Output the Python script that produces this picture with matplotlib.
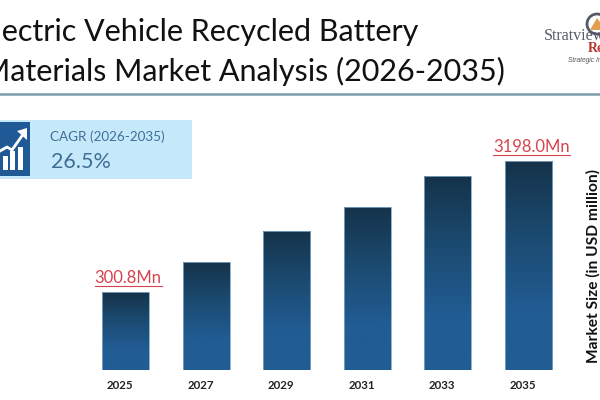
import numpy as np
import matplotlib
matplotlib.use("Agg")
import matplotlib.pyplot as plt
from matplotlib.colors import LinearSegmentedColormap
from matplotlib.patches import Rectangle, Circle, Polygon

years = ["2025", "2027", "2029", "2031", "2033", "2035"]
# bar heights as drawn (the picture is schematic; not proportional to labels)
heights = [780, 1080, 1390, 1630, 1940, 2090]
first_label = "300.8Mn"
last_label = "3198.0Mn"
title_lines = ["Electric Vehicle Recycled Battery", "Materials Market Analysis (2026-2035)"]
cagr_label = "CAGR (2026-2035)"
cagr_value = "26.5%"
ylabel = "Market Size (in USD million)"

W, H = 600, 400
fig = plt.figure(figsize=(6, 4), dpi=100, facecolor="white")
plt.rcParams["font.family"] = ["Lato", "DejaVu Sans"]

ov = fig.add_axes([0, 0, 1, 1], zorder=1)
ov.set_xlim(0, W); ov.set_ylim(H, 0); ov.axis("off")

left, right = 85, 569
step = 80.6
ax = fig.add_axes([left / W, (H - 370) / H, (right - left) / W, 230 / H], zorder=2)
ax.patch.set_alpha(0)
xlim = ((left - 125.5) / step, (right - 125.5) / step)
ylim = (0, 2300)
ax.axis("off")

cmap = LinearSegmentedColormap.from_list("b", [(0, "#15334a"), (0.35, "#1b4a70"), (0.72, "#215c93"), (1, "#215c93")])
xs = np.arange(len(years))
bars = ax.bar(xs, heights, width=47 / step, color="none", edgecolor="#7fa8c8", linewidth=0.6, zorder=2)
grad = np.linspace(0, 1, 256).reshape(-1, 1)
for b in bars:
    x0, w, h = b.get_x(), b.get_width(), b.get_height()
    im = ax.imshow(grad, cmap=cmap, extent=(x0, x0 + w, 0, h), origin="upper", aspect="auto", zorder=1)
ax.set_xlim(*xlim)
ax.set_ylim(*ylim)

for i, y in enumerate(years):
    ax.annotate(y, (i, 0), xytext=(-4, -11), textcoords="offset points",
                ha="center", va="center", fontsize=8.3, fontweight="bold", color="#222222",
                annotation_clip=False)

red = "#d8434c"
for idx, lab in ((0, first_label), (5, last_label)):
    t = ax.annotate(lab, (idx, heights[idx]), xytext=(2, 4), textcoords="offset points",
                    ha="center", va="bottom", fontsize=12, color=red)
    fig.canvas.draw()
    bb = t.get_window_extent()
    ya = H - ax.transData.transform((idx, heights[idx]))[1] - 6
    ov.plot([bb.x0, bb.x1], [ya, ya], color=red, lw=0.8)

# title (clipped by the canvas edge on the left, as in the source)
ov.text(418.5, 32, title_lines[0], ha="right", va="center", fontsize=22, color="#111111")
ov.text(505, 71, title_lines[1], ha="right", va="center", fontsize=22, color="#111111")
ov.plot([0, 600], [94, 94], color="#7d9eab", lw=1.8)

# CAGR box
ov.add_patch(Rectangle((0, 119.5), 192, 59.5, color="#c6e8fb", lw=0))
ov.add_patch(Rectangle((0, 122), 30, 54, color="#1f5a96", lw=0))
for x, top in ((3, 156), (10, 151), (18, 147)):
    ov.add_patch(Rectangle((x, top), 5, 170 - top, color="white", lw=0))
ov.plot([0, 7, 12, 24], [151, 147, 150, 133], color="white", lw=2)
ov.add_patch(Polygon([[27, 128], [17, 131], [27, 140]], color="white", lw=0))
ov.text(50.5, 137, cagr_label, ha="left", va="center", fontsize=9.7, color="#3f6f95")
ov.text(50.5, 161.5, cagr_value, ha="left", va="center", fontsize=15.5, color="#3f6f95")

# y label
ov.text(593.5, 266, ylabel, rotation=90, ha="center", va="center", fontsize=11.2, fontweight="bold", color="#111111")

# logo
ov.add_patch(Circle((597, 24), 10, fill=False, ec="#555b66", lw=2))
ov.add_patch(Polygon([[590, 30], [597, 18], [600, 22], [600, 30]], color="#e0a050", lw=0))
ov.text(544, 35.5, "Stratview", ha="left", va="center", family="Liberation Serif", fontsize=11.5, color="#555b66",
        bbox=dict(fc="none", ec="none"))
ov.text(588, 49, "Research", ha="left", va="center", family="Liberation Serif", fontsize=10, fontweight="bold", color="#b5352d")
ov.text(568, 60.5, "Strategic Insights", ha="left", va="center", family="Liberation Sans", fontsize=4.8, style="italic", color="#555555")

fig.savefig("out.png", dpi=100)
